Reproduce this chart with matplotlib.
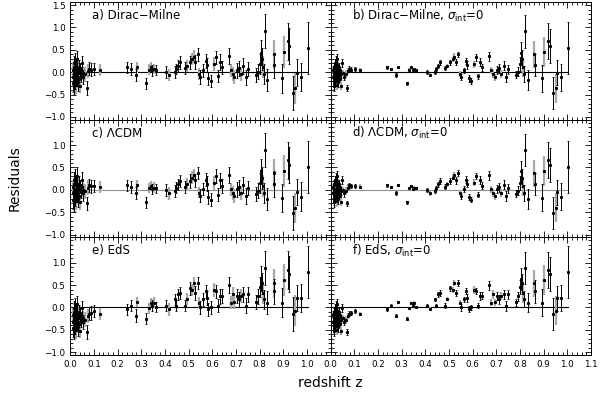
import matplotlib
matplotlib.use("Agg")
import matplotlib.pyplot as plt
import numpy as np
from matplotlib.ticker import MultipleLocator

# redshifts (low-z sample + high-z sample)
z = [0.010, 0.012, 0.013, 0.014, 0.015, 0.016, 0.016, 0.017, 0.018, 0.019,
     0.020, 0.021, 0.022, 0.023, 0.024, 0.025, 0.026, 0.026, 0.027, 0.028,
     0.029, 0.030, 0.031, 0.032, 0.033, 0.034, 0.036, 0.038, 0.040, 0.043,
     0.045, 0.049, 0.052, 0.055, 0.063, 0.071, 0.075, 0.078, 0.088, 0.101,
     0.124,
     0.239, 0.256, 0.277, 0.284, 0.321, 0.332, 0.341, 0.346, 0.353, 0.362,
     0.406, 0.418, 0.441, 0.446, 0.455, 0.462, 0.483, 0.493, 0.504, 0.515,
     0.522, 0.529, 0.539, 0.545, 0.549, 0.563, 0.573, 0.577, 0.584, 0.595,
     0.606, 0.616, 0.623, 0.631, 0.640, 0.670, 0.679, 0.686, 0.693, 0.704,
     0.712, 0.721, 0.732, 0.742, 0.749, 0.784, 0.793, 0.802, 0.804, 0.809,
     0.813, 0.817, 0.821, 0.832, 0.860, 0.863, 0.895, 0.902, 0.919, 0.925,
     0.941, 0.951, 0.958, 0.975, 1.003]

# 1 = error bar drawn in grey
grey = [0, 1, 0, 0, 1, 0, 1, 0, 0, 1,
        0, 1, 0, 0, 1, 0, 0, 1, 0, 1,
        0, 0, 1, 0, 1, 0, 0, 1, 0, 1,
        0, 0, 1, 0, 1, 0, 1, 0, 0, 0,
        1,
        0, 0, 0, 1, 0, 1, 1, 0, 1, 0,
        0, 1, 0, 0, 0, 0, 0, 1, 0, 1,
        1, 0, 0, 1, 0, 0, 0, 0, 0, 0,
        1, 0, 0, 0, 0, 0, 1, 1, 1, 0,
        0, 1, 0, 0, 0, 0, 0, 0, 0, 0,
        1, 0, 0, 0, 1, 0, 0, 1, 0, 0,
        0, 1, 0, 0, 0]

res_dm = [-0.10, 0.05, -0.25, 0.12, -0.05, -0.30, 0.08, -0.15, 0.20, -0.02,
          -0.20, 0.10, 0.25, -0.08, 0.00, -0.12, 0.15, -0.28, 0.05, -0.18,
          0.30, -0.05, 0.10, -0.22, 0.02, -0.10, 0.12, -0.15, 0.05, -0.30,
          -0.05, 0.20, -0.02, -0.10, -0.05, -0.35, 0.03, 0.08, 0.06, 0.07,
          0.05,
          0.11, 0.07, -0.06, 0.11, -0.25, 0.06, 0.11, 0.04, 0.07, 0.05,
          0.01, -0.06, 0.00, 0.07, 0.14, 0.22, 0.09, 0.14, 0.22, 0.29,
          0.35, 0.23, 0.40, -0.04, -0.11, 0.04, 0.25, 0.16, -0.14, -0.20,
          0.18, 0.33, -0.09, 0.23, 0.11, 0.36, 0.04, -0.04, -0.11, 0.04,
          0.09, -0.04, 0.14, -0.11, 0.07, -0.06, 0.01, 0.18, 0.43, 0.29,
          0.11, -0.04, 0.91, -0.17, 0.40, 0.16, -0.14, 0.45, 0.69, 0.58,
          -0.47, -0.36, -0.01, -0.11, 0.54]

res_lcdm = [-0.08, 0.06, -0.22, 0.14, -0.03, -0.28, 0.10, -0.13, 0.22, 0.00,
            -0.18, 0.12, 0.27, -0.06, 0.02, -0.10, 0.17, -0.26, 0.07, -0.16,
            0.32, -0.03, 0.12, -0.20, 0.04, -0.08, 0.14, -0.13, 0.07, -0.28,
            -0.03, 0.22, 0.00, -0.08, -0.03, -0.30, 0.05, 0.10, 0.08, 0.09,
            0.07,
            0.10, 0.06, -0.07, 0.10, -0.28, 0.04, 0.09, 0.02, 0.05, 0.03,
            -0.01, -0.08, -0.02, 0.05, 0.12, 0.20, 0.07, 0.12, 0.20, 0.27,
            0.33, 0.21, 0.38, -0.06, -0.13, 0.02, 0.23, 0.14, -0.16, -0.22,
            0.16, 0.31, -0.11, 0.21, 0.09, 0.33, 0.01, -0.07, -0.14, 0.01,
            0.06, -0.07, 0.11, -0.14, 0.04, -0.09, -0.02, 0.15, 0.41, 0.26,
            0.08, -0.07, 0.89, -0.20, 0.37, 0.13, -0.18, 0.42, 0.66, 0.55,
            -0.51, -0.40, -0.05, -0.15, 0.51]

res_eds = [-0.32, -0.17, -0.47, -0.10, -0.27, -0.52, -0.14, -0.37, -0.02, -0.24,
           -0.42, -0.12, 0.03, -0.30, -0.22, -0.34, -0.07, -0.50, -0.17, -0.40,
           0.08, -0.27, -0.12, -0.44, -0.20, -0.32, -0.10, -0.37, -0.17, -0.52,
           -0.27, -0.02, -0.24, -0.32, -0.27, -0.55, -0.19, -0.14, -0.12, -0.08,
           -0.15,
           -0.04, 0.04, -0.18, 0.12, -0.25, -0.02, 0.11, 0.04, 0.11, 0.01,
           0.04, -0.04, 0.18, 0.04, 0.29, 0.32, 0.04, 0.19, 0.43, 0.39,
           0.54, 0.32, 0.55, 0.11, 0.00, 0.18, 0.36, 0.21, -0.04, 0.00,
           0.39, 0.36, 0.04, 0.25, 0.26, 0.50, 0.11, 0.29, 0.12, 0.25,
           0.18, 0.25, 0.29, 0.04, 0.29, 0.12, 0.25, 0.46, 0.64, 0.54,
           0.32, 0.18, 0.88, 0.11, 0.54, 0.36, 0.11, 0.62, 0.84, 0.75,
           -0.14, -0.07, 0.21, 0.21, 0.79]

# total errors (with intrinsic dispersion)
err_tot = [0.18, 0.16, 0.20, 0.17, 0.15, 0.19, 0.16, 0.18, 0.17, 0.15,
           0.18, 0.16, 0.19, 0.17, 0.15, 0.18, 0.16, 0.20, 0.15, 0.17,
           0.18, 0.16, 0.17, 0.19, 0.15, 0.17, 0.16, 0.18, 0.15, 0.17,
           0.16, 0.17, 0.15, 0.16, 0.17, 0.15, 0.16, 0.15, 0.15, 0.14,
           0.13,
           0.12, 0.13, 0.14, 0.12, 0.13, 0.12, 0.11, 0.12, 0.12, 0.11,
           0.13, 0.14, 0.13, 0.12, 0.13, 0.14, 0.13, 0.14, 0.15, 0.14,
           0.14, 0.15, 0.14, 0.13, 0.15, 0.14, 0.15, 0.16, 0.15, 0.14,
           0.16, 0.15, 0.14, 0.17, 0.15, 0.17, 0.15, 0.16, 0.15, 0.16,
           0.17, 0.16, 0.17, 0.17, 0.16, 0.16, 0.17, 0.22, 0.28, 0.24,
           0.25, 0.22, 0.38, 0.25, 0.33, 0.28, 0.32, 0.36, 0.42, 0.40,
           0.38, 0.34, 0.30, 0.32, 0.58]

# statistical errors only (sigma_int = 0)
err_stat = [0.10, 0.08, 0.12, 0.09, 0.07, 0.11, 0.08, 0.10, 0.09, 0.07,
            0.10, 0.08, 0.11, 0.09, 0.07, 0.10, 0.08, 0.12, 0.07, 0.09,
            0.10, 0.08, 0.09, 0.11, 0.07, 0.09, 0.08, 0.10, 0.07, 0.09,
            0.08, 0.09, 0.07, 0.08, 0.09, 0.06, 0.07, 0.06, 0.05, 0.05,
            0.05,
            0.03, 0.03, 0.04, 0.03, 0.03, 0.03, 0.02, 0.03, 0.03, 0.02,
            0.04, 0.05, 0.04, 0.04, 0.05, 0.06, 0.05, 0.05, 0.06, 0.06,
            0.07, 0.07, 0.06, 0.06, 0.07, 0.06, 0.07, 0.08, 0.07, 0.06,
            0.08, 0.07, 0.06, 0.09, 0.08, 0.10, 0.07, 0.09, 0.08, 0.09,
            0.10, 0.09, 0.10, 0.11, 0.10, 0.08, 0.10, 0.16, 0.24, 0.20,
            0.21, 0.18, 0.36, 0.22, 0.30, 0.25, 0.30, 0.34, 0.40, 0.38,
            0.36, 0.32, 0.28, 0.30, 0.58]

labels = ["a) Dirac\u2212Milne", "b) Dirac\u2212Milne, $\\sigma_{\\rm int}$=0",
          "c) \u039bCDM", "d) \u039bCDM, $\\sigma_{\\rm int}$=0",
          "e) EdS", "f) EdS, $\\sigma_{\\rm int}$=0"]

z = np.array(z)
grey = np.array(grey, dtype=bool)
res_all = [res_dm, res_lcdm, res_eds]

plt.rcParams['font.family'] = ['DejaVu Sans']
plt.rcParams['mathtext.fontset'] = 'dejavusans'

fig, axes = plt.subplots(3, 2, figsize=(6.0, 3.93), dpi=100)
plt.subplots_adjust(left=0.117, right=0.985, bottom=0.097, top=0.995,
                    wspace=0, hspace=0)

for i in range(3):
    r = np.array(res_all[i])
    for j in range(2):
        ax = axes[i, j]
        e = np.array(err_tot if j == 0 else err_stat)
        zero_col = "#909090" if i == 1 else "black"
        ax.plot([0, z.max()], [0, 0], color=zero_col, lw=0.8, zorder=1)
        ax.errorbar(z[grey], r[grey], yerr=e[grey], fmt="none",
                    ecolor="#a8a8a8", elinewidth=1.6, capsize=0, zorder=2)
        ax.errorbar(z[~grey], r[~grey], yerr=e[~grey], fmt="none",
                    ecolor="black", elinewidth=0.7, capsize=1, capthick=0.6,
                    zorder=3)
        ax.plot(z, r, "s", color="black", ms=1.2, zorder=4)

        ax.set_xlim(0, 1.1)
        ax.set_ylim(-1.06, 1.57)
        ax.xaxis.set_major_locator(MultipleLocator(0.1))
        ax.xaxis.set_minor_locator(MultipleLocator(0.02))
        ax.yaxis.set_minor_locator(MultipleLocator(0.1))
        if i == 0:
            ax.set_yticks([-1.0, -0.5, 0.0, 0.5, 1.0, 1.5])
        else:
            ax.set_yticks([-1.0, -0.5, 0.0, 0.5, 1.0])
        ax.tick_params(which="both", direction="in", top=True, right=True,
                       labelsize=6.3, width=0.6)
        ax.tick_params(which="major", length=4)
        ax.tick_params(which="minor", length=2)
        for s in ax.spines.values():
            s.set_linewidth(0.7)

        if j == 0:
            ax.yaxis.set_major_formatter(plt.FuncFormatter(
                lambda v, p: "%.1f" % v if v >= 0 else "\u2212%.1f" % -v))
        else:
            ax.tick_params(labelleft=False)
        if i == 2:
            if j == 0:
                ax.set_xticks(np.arange(0, 1.05, 0.1))
                ax.set_xticklabels(["%.1f" % v for v in np.arange(0, 1.05, 0.1)])
            else:
                ax.set_xticks(np.arange(0, 1.15, 0.1))
                ax.set_xticklabels(["%.1f" % v for v in np.arange(0, 1.15, 0.1)])
            ax.xaxis.set_minor_locator(MultipleLocator(0.02))
            ax.set_xlim(0, 1.1)
        else:
            ax.tick_params(labelbottom=False)

        ax.text(0.084, 0.885, labels[2 * i + j], transform=ax.transAxes,
                fontsize=8.5, va="center", ha="left")

fig.text(0.025, 0.546, "Residuals", rotation=90, fontsize=10,
         va="center", ha="center")
fig.text(0.55, 0.026, "redshift z", fontsize=10, va="center", ha="center")

fig.savefig("out.png", dpi=100)
